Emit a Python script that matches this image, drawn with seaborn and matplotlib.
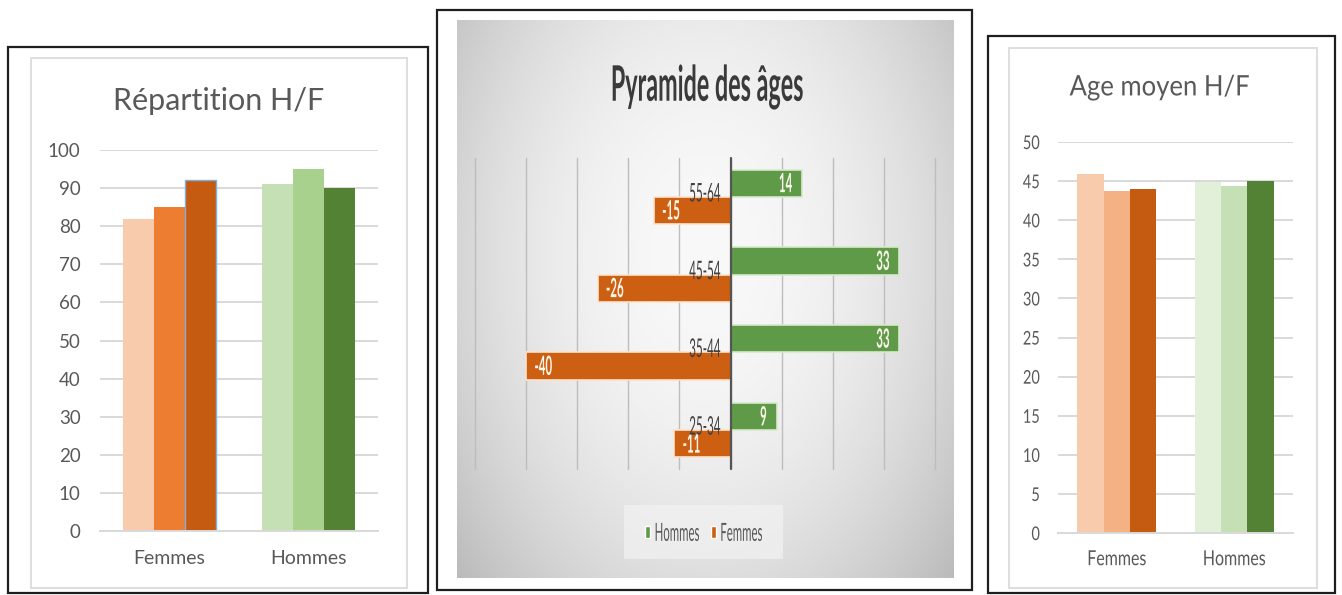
import numpy as np
import pandas as pd
import matplotlib
matplotlib.use("Agg")
import matplotlib.pyplot as plt
import seaborn as sns
from matplotlib import font_manager
from matplotlib.patches import Rectangle
from matplotlib.patheffects import AbstractPathEffect
from matplotlib.transforms import Affine2D, offset_copy

# ---------------- data ----------------
sexes = ["Femmes", "Hommes"]
series = ["Série 1", "Série 2", "Série 3"]

repartition_femmes = [82, 85, 92]
repartition_hommes = [91, 95, 90]
repartition_ticks = list(range(0, 101, 10))

age_moyen_femmes = [45.9, 43.7, 44.0]
age_moyen_hommes = [44.9, 44.4, 45.0]
age_ticks = list(range(0, 51, 5))

tranches = ["55-64", "45-54", "35-44", "25-34"]
pyramide_hommes = [14, 33, 33, 9]
pyramide_femmes = [-15, -26, -40, -11]
pyramide_ticks = list(range(-50, 41, 10))

# ---------------- style ----------------
sns.set_style("white")
names = {f.name for f in font_manager.fontManager.ttflist}
BODY = "Lato" if "Lato" in names else "DejaVu Sans"
plt.rcParams["font.family"] = [BODY, "DejaVu Sans"]

GREY_TXT = "#595959"
GRID = "#d9d9d9"

rep_colors = {"Femmes": ["#F8CBAD", "#ED7D31", "#C55A11"],
              "Hommes": ["#C5E0B4", "#A9D18E", "#548235"]}
age_colors = {"Femmes": ["#F8CBAD", "#F4B183", "#C55A11"],
              "Hommes": ["#E2F0D9", "#C5E0B4", "#548235"]}
PYR_COLORS = {"Hommes": "#5E9A48", "Femmes": "#CC5F12"}
PYR_EDGES = {"Hommes": "#d7e9cb", "Femmes": "#fbe3cc"}


class VStretch(AbstractPathEffect):
    """Draw glyphs taller than wide, scaled about the middle of the cap height."""

    def __init__(self, sy, pivot=36.0):
        super().__init__()
        self.sy = sy
        self.pivot = pivot

    def draw_path(self, renderer, gc, tpath, affine, rgbFace=None):
        pre = Affine2D().translate(0, -self.pivot).scale(1, self.sy).translate(0, self.pivot)
        renderer.draw_path(gc, tpath, pre + affine, rgbFace)


W, H = 1342, 595
fig = plt.figure(figsize=(W / 100, H / 100), dpi=100)
fig.patch.set_facecolor("white")


def fig_rect(x0, y0, x1, y1):
    return [x0 / W, 1 - y1 / H, (x1 - x0) / W, (y1 - y0) / H]


def frame(x0, y0, x1, y1, **kw):
    r = fig_rect(x0, y0, x1, y1)
    fig.add_artist(Rectangle((r[0], r[1]), r[2], r[3], transform=fig.transFigure,
                             fill=False, **kw))


def grouped_bars(ax, femmes, hommes, colors, ticks, ymax):
    df = pd.DataFrame({"sexe": np.repeat(sexes, len(series)),
                       "serie": series * 2,
                       "valeur": femmes + hommes})
    sns.barplot(data=df, x="sexe", y="valeur", hue="serie", order=sexes,
                hue_order=series, width=0.67, gap=0, errorbar=None,
                saturation=1, legend=False, ax=ax)
    for i, cont in enumerate(ax.containers):
        for j, patch in enumerate(cont.patches):
            patch.set_facecolor(colors[sexes[j]][i])
            patch.set_edgecolor("none")
    ax.set_xlim(-0.5, 1.5)
    ax.set_ylim(0, ymax)
    ax.set_yticks(ticks)
    ax.set_xlabel("")
    ax.set_ylabel("")
    ax.set_axisbelow(True)
    ax.yaxis.grid(True, color=GRID, lw=1.4)
    for side in ["left", "right", "top"]:
        ax.spines[side].set_visible(False)
    ax.spines["bottom"].set_color(GRID)
    ax.spines["bottom"].set_linewidth(1.4)
    ax.tick_params(length=0, colors=GREY_TXT)
    ax.set_facecolor("none")


# ---------------- panel 1 : répartition ----------------
frame(8, 47, 428, 593, lw=1.6, ec="#1e1e1e")
frame(31, 58, 407, 588, lw=1.4, ec="#dedede")
ax1 = fig.add_axes(fig_rect(100, 150, 378, 531))
grouped_bars(ax1, repartition_femmes, repartition_hommes, rep_colors,
             repartition_ticks, 100)
ax1.containers[2].patches[0].set_edgecolor("#7fb0dd")
ax1.containers[2].patches[0].set_linewidth(1.0)
ax1.tick_params(axis="y", labelsize=13.5, pad=14)
ax1.tick_params(axis="x", labelsize=14, pad=14)
fig.text(219 / W, 1 - 101 / H, "Répartition H/F", ha="center", va="center",
         fontsize=22, color=GREY_TXT)

# ---------------- panel 3 : âge moyen ----------------
frame(988, 36, 1335, 593, lw=1.6, ec="#1e1e1e")
frame(1009, 48, 1317, 588, lw=1.4, ec="#dedede")
ax3 = fig.add_axes(fig_rect(1058, 142, 1293, 533))
grouped_bars(ax3, age_moyen_femmes, age_moyen_hommes, age_colors, age_ticks, 50)
ax3.tick_params(axis="y", labelsize=10.5, pad=13)
ax3.tick_params(axis="x", labelsize=11.5, pad=14)
for t in ax3.get_yticklabels() + ax3.get_xticklabels():
    t.set_path_effects([VStretch(1.3)])
fig.text(1160 / W, 1 - 87 / H, "Age moyen H/F", ha="center", va="center",
         fontsize=18.5, color=GREY_TXT, path_effects=[VStretch(1.1)])

# ---------------- panel 2 : pyramide des âges ----------------
frame(437, 10, 972, 590, lw=1.6, ec="#1e1e1e")
bg = fig.add_axes(fig_rect(457, 20, 953, 578))
yy, xx = np.mgrid[0:1:300j, 0:1:300j]
rr = np.sqrt(((xx - 0.5) / 0.6) ** 2 + ((yy - 0.42) / 0.8) ** 2)
shade = np.clip(0.975 - 0.2 * rr ** 2, 0.72, 1.0)
bg.imshow(np.dstack([shade] * 3), aspect="auto", extent=(0, 1, 0, 1))
bg.axis("off")

axp = fig.add_axes(fig_rect(475, 158, 935, 469))
dfp = pd.DataFrame({"tranche": tranches * 2,
                    "sexe": ["Hommes"] * len(tranches) + ["Femmes"] * len(tranches),
                    "effectif": pyramide_hommes + pyramide_femmes})
sns.barplot(data=dfp, y="tranche", x="effectif", hue="sexe", order=tranches,
            hue_order=["Hommes", "Femmes"], palette=PYR_COLORS, orient="h",
            width=0.7, gap=0, errorbar=None, saturation=1, ax=axp)
axp.set_facecolor("none")
axp.set_xlim(-50, 40)
axp.set_xticks(pyramide_ticks)
axp.set_axisbelow(True)
axp.xaxis.grid(True, color="#bdbdbd", lw=1.0)
for gl in axp.get_xgridlines():
    gl.set_clip_on(False)
for side in axp.spines:
    axp.spines[side].set_visible(False)
axp.tick_params(length=0, labelbottom=False, labelleft=False)
axp.set_xlabel("")
axp.set_ylabel("")
axp.axvline(0, color="#555555", lw=1.6, zorder=3, clip_on=False)

pyr_values = {"Hommes": pyramide_hommes, "Femmes": pyramide_femmes}
for cont, sexe in zip(axp.containers, ["Hommes", "Femmes"]):
    for patch, v in zip(cont.patches, pyr_values[sexe]):
        patch.set_edgecolor(PYR_EDGES[sexe])
        patch.set_linewidth(1.2)
        yc = patch.get_y() + patch.get_height() / 2
        dx = -7 if v > 0 else 6
        axp.annotate(str(v), xy=(v, yc), xytext=(dx, 0), textcoords="offset points",
                     ha="right" if v > 0 else "left", va="center",
                     fontsize=8.3, fontweight="bold", color="#fbf6ea", zorder=5,
                     path_effects=[VStretch(2.3)])

# age-band labels sit just left of the zero axis
label_tr = offset_copy(axp.transData, fig=fig, x=-10, y=4, units="dots")
for yv, lab in zip(axp.get_yticks(), tranches):
    axp.text(0, yv, lab, transform=label_tr, ha="right", va="center",
             fontsize=8.4, color="#404040", zorder=6, path_effects=[VStretch(2.2)])

sns.move_legend(axp, "center", bbox_to_anchor=(0.497, -0.203), ncol=2, title=None,
                frameon=True, fontsize=8.2, handlelength=0.45, handleheight=1.3,
                handletextpad=0.4, columnspacing=1.0, borderpad=1.8)
leg = axp.get_legend()
leg.get_frame().set_facecolor("#f2f2f2")
leg.get_frame().set_alpha(0.7)
leg.get_frame().set_edgecolor("none")
leg.get_frame().set_boxstyle("square", pad=0)
for t in leg.get_texts():
    t.set_color(GREY_TXT)
    t.set_path_effects([VStretch(2.2)])

fig.text(707 / W, 1 - 85 / H, "Pyramide des âges", ha="center", va="center",
         fontsize=16.8, fontweight="bold", color="#3a3a3a",
         path_effects=[VStretch(2.1)])

fig.savefig("out.png", dpi=100, facecolor="white")
